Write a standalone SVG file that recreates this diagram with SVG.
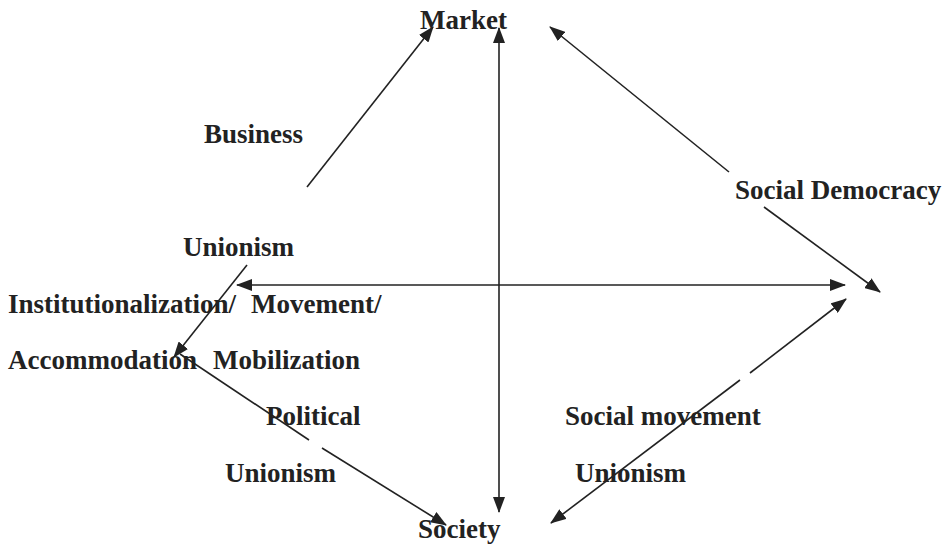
<svg xmlns="http://www.w3.org/2000/svg" width="948" height="545" viewBox="0 0 948 545">
<style>
.lbl{font-family:"Liberation Serif","Times New Roman",serif;font-weight:bold;font-size:27px;fill:#222;}
.cn{stroke:#222;stroke-width:1.6;fill:none;}
</style>
<defs>
<marker id="ah" viewBox="0 0 16 12" refX="15" refY="6" markerWidth="16" markerHeight="12" markerUnits="userSpaceOnUse" orient="auto-start-reverse">
<path d="M0,0 L16,6 L0,12 z" fill="#222"/>
</marker>
</defs>
<rect width="948" height="545" fill="#fff"/>
<g id="connectors">
<line class="cn" x1="499" y1="28" x2="499" y2="512" marker-start="url(#ah)" marker-end="url(#ah)"/>
<line class="cn" x1="237" y1="285" x2="845" y2="285" marker-start="url(#ah)" marker-end="url(#ah)"/>
<line class="cn" x1="307" y1="187" x2="433" y2="27" marker-end="url(#ah)"/>
<line class="cn" x1="550" y1="27" x2="729" y2="172" marker-start="url(#ah)"/>
<line class="cn" x1="764" y1="207" x2="880" y2="292" marker-end="url(#ah)"/>
<line class="cn" x1="247" y1="265" x2="174" y2="357" marker-end="url(#ah)"/>
<line class="cn" x1="180" y1="354" x2="309" y2="440"/>
<line class="cn" x1="322" y1="448" x2="446" y2="525" marker-end="url(#ah)"/>
<line class="cn" x1="551" y1="523" x2="740" y2="380" marker-start="url(#ah)"/>
<line class="cn" x1="750" y1="373" x2="846" y2="299" marker-end="url(#ah)"/>
</g>
<g id="market"><text class="lbl" x="420" y="29">Market</text></g>
<g id="society"><text class="lbl" x="418" y="538">Society</text></g>
<g id="business"><text class="lbl" x="204" y="143">Business</text></g>
<g id="social-democracy"><text class="lbl" x="735" y="199">Social Democracy</text></g>
<g id="unionism-top"><text class="lbl" x="183" y="256">Unionism</text></g>
<g id="institutionalization"><text class="lbl" x="8" y="313">Institutionalization/</text><text class="lbl" x="251" y="313">Movement/</text></g>
<g id="accommodation"><text class="lbl" x="8" y="369">Accommodation</text><text class="lbl" x="213" y="369">Mobilization</text></g>
<g id="political-unionism"><text class="lbl" x="266" y="425">Political</text><text class="lbl" x="225" y="482">Unionism</text></g>
<g id="social-movement-unionism"><text class="lbl" x="565" y="425">Social movement</text><text class="lbl" x="575" y="482">Unionism</text></g>
</svg>
